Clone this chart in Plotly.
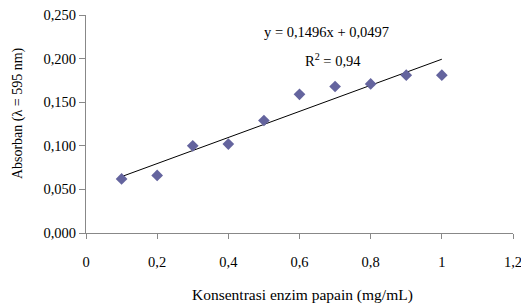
import plotly.graph_objects as go

konsentrasi = [0.1, 0.2, 0.3, 0.4, 0.5, 0.6, 0.7, 0.8, 0.9, 1.0]
absorban = [0.062, 0.066, 0.100, 0.102, 0.129, 0.159, 0.168, 0.171, 0.181, 0.181]
slope = 0.1496
intercept = 0.0497
eq_text = "y = 0,1496x + 0,0497"
r2_text = "R<sup>2</sup> = 0,94"
x_title = "Konsentrasi enzim papain (mg/mL)"
y_title = "Absorban (λ = 595 nm)"
x_ticks = [0, 0.2, 0.4, 0.6, 0.8, 1.0, 1.2]
y_ticks = [0, 0.05, 0.1, 0.15, 0.2, 0.25]

trend_x = [konsentrasi[0], konsentrasi[-1]]
trend_y = [slope * v + intercept for v in trend_x]

font = "Liberation Serif"
fs = 14.5
fig = go.Figure()
fig.add_trace(go.Scatter(x=trend_x, y=trend_y, mode="lines",
                         line=dict(color="black", width=1), hoverinfo="skip"))
fig.add_trace(go.Scatter(x=konsentrasi, y=absorban, mode="markers",
                         marker=dict(symbol="diamond", size=9, color="#64649E",
                                     line=dict(width=0))))

fig.update_layout(
    width=521, height=305, showlegend=False,
    plot_bgcolor="white", paper_bgcolor="white",
    separators=",.",
    margin=dict(l=86, r=8, t=15, b=72),
    font=dict(family=font, size=fs, color="black"),
    annotations=[
        dict(x=0.677, y=0.2305, xref="x", yref="y", text=eq_text, showarrow=False,
             xanchor="center", yanchor="middle", font=dict(family=font, size=fs)),
        dict(x=0.694, y=0.1984, xref="x", yref="y", text=r2_text, showarrow=False,
             xanchor="center", yanchor="middle", font=dict(family=font, size=fs)),
        dict(x=0.506, y=-0.284, xref="paper", yref="paper", text=x_title,
             xanchor="center", yanchor="middle",
             showarrow=False, font=dict(family=font, size=15.5)),
        dict(x=-0.159, y=0.5505, xref="paper", yref="paper", text=y_title,
             xanchor="center", yanchor="middle",
             textangle=-90, showarrow=False, font=dict(family=font, size=14)),
    ],
)
fig.update_xaxes(range=[0, 1.2], tickvals=x_ticks, showgrid=False, zeroline=False,
                 showline=True, linecolor="#888888", linewidth=1,
                 ticks="outside", ticklen=5, tickcolor="#888888",
                 ticklabelstandoff=11, ticklabeloverflow="allow", automargin=False)
fig.update_yaxes(range=[0, 0.25], tickvals=y_ticks, tickformat=".3f", showgrid=False,
                 zeroline=False, showline=True, linecolor="#888888", linewidth=1,
                 ticks="outside", ticklen=6, tickcolor="#888888",
                 ticklabeloverflow="allow", automargin=False)

fig.write_html("out.html", config={"displayModeBar": False},
               post_script="document.body.style.margin='0';")
